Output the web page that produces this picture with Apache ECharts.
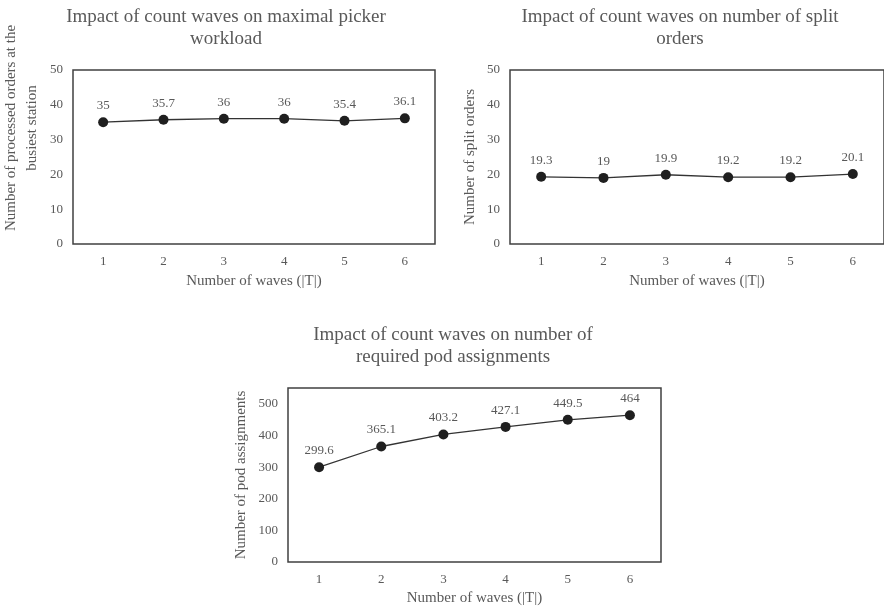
<!DOCTYPE html>
<html>
<head>
<meta charset="utf-8">
<script src="https://cdn.jsdelivr.net/npm/echarts@6/dist/echarts.min.js"></script>
<style>html,body{margin:0;padding:0;background:#fff}#c{width:884px;height:608px}</style>
</head>
<body>
<div id="c"></div>
<script>
var waves = ['1', '2', '3', '4', '5', '6'];
var pickerWorkload = [35, 35.7, 36, 36, 35.4, 36.1];
var splitOrders = [19.3, 19, 19.9, 19.2, 19.2, 20.1];
var podAssignments = [299.6, 365.1, 403.2, 427.1, 449.5, 464];

var titles = [
  'Impact of count waves on maximal picker\nworkload',
  'Impact of count waves on number of split\norders',
  'Impact of count waves on number of\nrequired pod assignments'
];
var yNames = [
  'Number of processed orders at the\nbusiest station',
  'Number of split orders',
  'Number of pod assignments'
];
var xName = 'Number of waves (|T|)';

var FONT = '"Liberation Serif", "Times New Roman", serif';
var TXT = '#595959';

function xAxisFor(i, gap) {
  return {
    type: 'category', gridIndex: i, data: waves, boundaryGap: true,
    axisLine: {show: false}, axisTick: {show: false},
    axisLabel: {color: TXT, fontFamily: FONT, fontSize: 13, margin: 11},
    name: xName, nameLocation: 'middle', nameGap: gap,
    nameTextStyle: {color: TXT, fontFamily: FONT, fontSize: 15}
  };
}
function yAxisFor(i, max, interval, gap, name, pad, lh) {
  return {
    type: 'value', gridIndex: i, min: 0, max: max, interval: interval,
    axisLine: {show: false}, axisTick: {show: false}, splitLine: {show: false},
    axisLabel: {color: TXT, fontFamily: FONT, fontSize: 13, margin: 10, showMaxLabel: max % interval === 0},
    name: name, nameLocation: 'middle', nameGap: gap, nameRotate: 90,
    nameTextStyle: {color: TXT, fontFamily: FONT, fontSize: 15, lineHeight: lh || 19, padding: pad || 0}
  };
}
function seriesFor(i, data) {
  return {
    type: 'line', xAxisIndex: i, yAxisIndex: i, data: data,
    symbol: 'circle', symbolSize: 10,
    lineStyle: {color: '#333333', width: 1.3},
    itemStyle: {color: '#1f1f1f'},
    label: {show: true, position: 'top', distance: 5, color: TXT, fontFamily: FONT, fontSize: 13},
    animation: false
  };
}
var gridStyle = {show: true, borderColor: '#404040', borderWidth: 1.5, backgroundColor: 'transparent'};
var titleStyle = {color: TXT, fontFamily: FONT, fontSize: 19, fontWeight: 'normal', lineHeight: 22};

var option = {
  backgroundColor: '#ffffff',
  animation: false,
  title: [
    {text: titles[0], left: 221, top: 1, textAlign: 'center', textStyle: titleStyle},
    {text: titles[1], left: 675, top: 1, textAlign: 'center', textStyle: titleStyle},
    {text: titles[2], left: 448, top: 319, textAlign: 'center', textStyle: titleStyle}
  ],
  grid: [
    Object.assign({left: 73, top: 70, width: 362, height: 174}, gridStyle),
    Object.assign({left: 510, top: 70, width: 378, height: 174}, gridStyle),
    Object.assign({left: 288, top: 388, width: 373, height: 174}, gridStyle)
  ],
  xAxis: [xAxisFor(0, 30), xAxisFor(1, 30), xAxisFor(2, 29)],
  yAxis: [
    yAxisFor(0, 50, 10, 30, yNames[0], [0, 0, 0, 58], 21),
    yAxisFor(1, 50, 10, 30, yNames[1]),
    yAxisFor(2, 550, 100, 37, yNames[2])
  ],
  series: [seriesFor(0, pickerWorkload), seriesFor(1, splitOrders), seriesFor(2, podAssignments)]
};
var chart = echarts.init(document.getElementById('c'), null, {renderer: 'canvas'});
chart.setOption(option);
</script>
</body>
</html>
